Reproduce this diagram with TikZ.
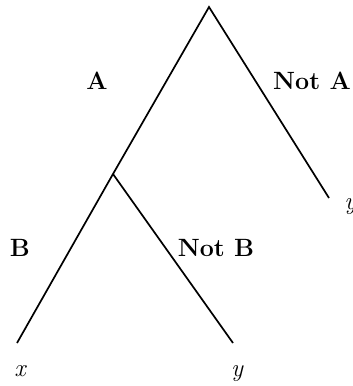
\documentclass[tikz,border=0pt]{standalone}
\begin{document}
\begin{tikzpicture}[x=0.5pt,y=-0.5pt,
  branch/.style={line width=0.85pt},
  lbl/.style={font=\fontsize{12.5}{14}\selectfont\bfseries, inner sep=0pt},
  leaf/.style={font=\fontsize{12.5}{14}\selectfont\itshape, inner sep=0pt}]
\useasboundingbox (0,0) rectangle (353,386);
\coordinate (root) at (209,7);
\coordinate (mid) at (113,174);
\coordinate (lx) at (17,343);
\coordinate (ly) at (233,343);
\coordinate (ry) at (329,198);
\draw[branch] (lx) -- (mid) -- (root) -- (ry);
\draw[branch] (mid) -- (ly);
\node[lbl] (la) at (97,81) {A};
\node[lbl] (lna) at (312,81) {Not A};
\node[lbl] (lb) at (20,248) {B};
\node[lbl] (lnb) at (216,248) {Not B};
\node[leaf, anchor=base] (tx) at (20,376) {x};
\node[leaf, anchor=base] (ty) at (237,376) {y};
\node[leaf, anchor=base west] (try) at (344,209) {y};
\end{tikzpicture}
\end{document}
